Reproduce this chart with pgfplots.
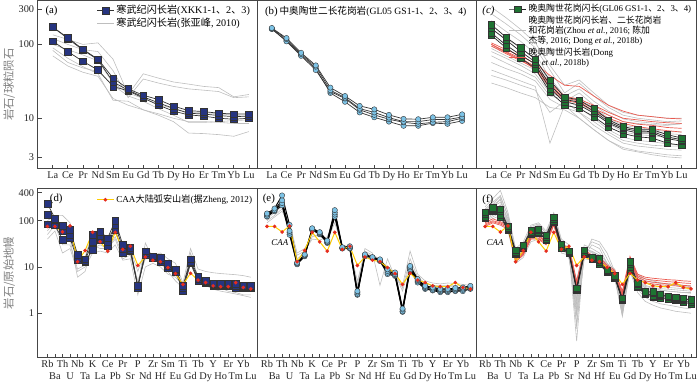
\documentclass[border=0pt]{standalone}
\usepackage{fontspec}
\setmainfont{Liberation Serif}
\newfontfamily\cjk{Noto Sans CJK SC}
\usepackage{pgfplots}
\usepackage{pgfplotstable}
\usepgfplotslibrary{groupplots}
\pgfplotsset{compat=1.18}

\definecolor{navy}{RGB}{38,52,128}
\definecolor{ltblue}{RGB}{125,195,230}
\definecolor{dgreen}{RGB}{30,115,50}
\definecolor{lgray}{RGB}{190,190,190}
\definecolor{lred}{RGB}{235,90,80}
\definecolor{caay}{RGB}{255,205,0}
\definecolor{caar}{RGB}{230,45,30}
\definecolor{framec}{RGB}{70,70,70}

% chondrite-normalised REE
\pgfplotstableread{
x s1 s2 s3 g1 g2 g3 g4 g5 g6
0 172 172 111 135 120 100 83 70 90
1 123 120 80 117 100 85 57 51 65
2 86 84 59 100 85 72 48 42 50
3 63 62 45 105 80 60 43 37 40
4 35 31 27 63 44 30 28 18.5 17.5
5 25 24 23.5 21 19 22 20 15 17
6 20.5 19.5 18.8 40 34 18.5 17 13 13
7 17.9 16.2 15.1 35 30 15.5 13.5 11 11.5
8 14.6 13.6 12.5 31 27 13.5 11 9 10
9 12.7 11.7 11.1 29 25 12 8.8 6.3 9
10 12.3 11.4 10.7 27 24 12 8.8 6.2 9
11 11.7 10.9 10 26 23 11.5 9 6 8.8
12 11.4 10.5 9.7 19.5 19 11 9.3 5.7 8.5
13 11.4 10.7 10 21 19.5 10.5 9.5 6.6 8.5
}\tabA

\pgfplotstableread{
x s1 s2 s3 s4
0 167 165 162 162
1 122 118 110 112
2 77 74 70 72
3 52 50 45 47
4 26 24 23 22
5 20 19 18.5 16.7
6 14.7 13.5 13 12
7 13.2 12 11.1 10.3
8 11.1 10.2 9.7 9
9 9.8 9 8.8 7.9
10 9.7 9 8.4 7.9
11 10.3 9.6 8.8 8.6
12 10.3 9.6 9 8.4
13 11.3 10.4 10 9.2
}\tabB

\pgfplotstableread{
x s1 s2 s3 s4 r1 r2 r3 r4 h1 h2 h3 h4 m1 m2 m3 m4 l1 l2 l3 l4
0 185 165 143 133 105 100 95 100 320 260 210 160 95 88 80 70 57 45 38 30
1 125 115 98 90 85 80 75 78 230 190 150 120 78 70 65 56 47 38 33 26
2 90 80 72 66 70 65 60 62 160 135 110 90 62 56 52 45 40 32 28 22
3 63 58 54 47 55 50 48 46 105 90 75 65 50 45 40 36 32 27 24 19
4 32.5 28 25 22.6 38 30 28 26 52 45 35 30 30 25 22 20 18 4.6 12 14
5 19.4 18 16.7 15.1 28 20 19 17.5 28 22 20 17 18 20 19 18 14 15 17 13
6 17.6 16.5 15.1 13.6 27 18 17 16 33 30 25 22 19 18 16 14 12 10 12 10
7 13.6 12.5 11.7 10.5 20 15 13.5 12.5 22 20 17 15 14 13 12 10 9 7 8 7
8 9.5 9 8.6 7.6 15 12 11 10 15 14 12.5 11 10 9.5 8.5 7 6.5 5 6 5
9 7.7 7.3 7 6.2 12.5 10 9 8.5 12 11 9.8 9 8 7.5 6.5 5.5 5 4 4.6 3.8
10 7 6.7 6.3 5.6 11 9.5 8.3 7.7 11 10 9 8.5 7.5 7 6 5 4.6 3.6 4.2 3.5
11 7 6.6 6.3 5.4 10.5 9 8 7.2 10.5 9.5 8.6 8.2 7 6.6 5.8 4.8 4.3 3.4 4 3.2
12 6 5.6 5.3 4.6 10 8.7 7.5 6.8 10 9 8.2 8 6.6 6.2 5.5 4.5 4.2 3.2 3.8 3
13 5.4 5.1 4.9 4.3 9.8 8.5 7.3 6.5 10 9.2 8.4 8.5 6.5 6 5.3 4.3 4.2 3.1 3.7 2.9
}\tabC

% primitive-mantle-normalised trace elements
\pgfplotstableread{
x caa
0 75
1 75
2 57
3 77
4 13
5 22.6
6 56
7 35
8 22
9 56
10 24
11 28
12 10.8
13 16.5
14 14
15 13
16 9.7
17 7.2
18 4.2
19 7.3
20 5.2
21 4.6
22 3.9
23 3.75
24 3.75
25 4.6
26 3.6
27 3.35
}\tabCAA

\pgfplotstableread{
x s1 s2 s3 g1 g2 g3 g4
0 234 136 84 100 60 40 50
1 112 105 80 130 100 60 80
2 78 60 39 130 60 20 30
3 63 50 42 90 40 25 30
4 18.6 16 13.9 13 6 8 9
5 14.6 13.5 13 16 8 10 11
6 49.5 35.7 23.8 60 30 20 25
7 58 48 39 50 25 22 30
8 42 35 28 45 25 20 25
9 100 81 63 70 40 30 45
10 30 25 20 30 15 14 18
11 26 24 22 25 18 15 20
12 3.9 3.6 3.8 8 4 2.5 5
13 22 20 18.6 25 33 10 15
14 17.1 16 15.8 18 15 12 15
15 15.8 14 13 20 12 10 14
16 11.8 10.5 9.4 15 8 7 9
17 8.9 8.5 8 12 5 6 7
18 3.9 3.5 3.1 4.5 3.5 4 3.5
19 14.6 13 12 25 20 12 14
20 6.1 5.5 5 9 6 5 5.5
21 5 4.8 4.6 8 5 4 4.5
22 4.4 4.1 3.9 7.5 4.5 3.3 4
23 4.4 4.1 3.9 7.2 3.5 3 3.8
24 4.4 4.1 3.9 7 3 2.8 3.6
25 4.4 4 3.6 6.8 2.8 2.6 3.4
26 3.9 3.7 3.6 6.5 2.5 2.4 3.2
27 3.9 3.7 3.6 6 2.5 2.2 3
}\tabD

\pgfplotstableread{
x s1 s2 s3 s4 g1 g2 g3
0 143 135 125 122 100 110 90
1 183 170 165 160 130 150 120
2 351 276 240 215 180 200 160
3 81 60 55 49.5 90 70 80
4 12.4 12 11.8 11.4 20 18 15
5 18.6 18 17.5 17 25 22 20
6 68.5 66 64 63 50 40 45
7 56.5 54 52 51 45 38 50
8 37 35 34 33 40 45 38
9 169 150 135 122 120 110 90
10 26.6 26 25.5 25 30 30 28
11 28 26 25.5 25 25 27 24
12 3.0 2.8 2.6 2.5 4 3.5 5
13 18.6 18 17.5 17 25 22 20
14 16.3 16 15.9 15.8 20 18 17
15 14.6 14 13.8 13.4 4 15 14
16 8.9 8.2 7.5 7 15 9 10
17 7.6 7 6.7 6.4 6 7 7
18 1.26 1.2 1.1 1.07 4 3.5 3
19 10.5 9.8 9 8.5 22 15 12
20 5.5 5.2 4.9 4.6 7 6 5.5
21 3.9 3.7 3.5 3.35 5 4.5 4
22 3.6 3.4 3.2 3.1 4.5 4 3.7
23 3.35 3.2 3 2.85 4.3 4 3.6
24 3.35 3.2 3 2.85 4.5 4 3.8
25 3.5 3.3 3.1 3.0 4.4 4 3.7
26 3.6 3.4 3.2 3.0 4.2 3.8 3.5
27 3.9 3.7 3.5 3.35 4 3.8 3.5
}\tabE

\pgfplotstableread{
x s1 s2 s3 s4 r1 r2 r3 r4 g1 g2 g3 g4 g5 g6 g7 g8 g9 g10 g11 g12
0 150 140 120 112 85 80 75 90 200 180 150 130 110 100 160 90 140 120 170 105
1 190 180 170 165 100 95 90 110 300 250 220 160 140 120 200 110 180 150 230 130
2 175 160 135 122 90 85 80 95 450 350 280 220 180 150 250 130 300 200 330 160
3 75 70 65 62 75 70 65 80 150 120 100 90 80 70 110 60 90 85 130 75
4 23 21 20 19 15 14 13 16 25 20 18 15 14 13 22 12 16 17 21 15
5 30 28 27 26 20 19 18 21 35 28 25 22 20 18 30 16 24 23 29 21
6 62 58 53 51 45 42 40 48 80 70 60 55 45 40 65 35 50 48 75 42
7 66 62 56 54 45 42 40 48 90 80 70 60 50 45 55 40 65 55 85 48
8 48 45 40 39 35 32 30 36 60 55 50 45 40 38 48 35 42 44 52 36
9 120 110 100 95 90 85 80 95 150 140 130 120 100 90 110 80 100 95 125 85
10 31 29 26 25 28 26 25 30 40 35 30 28 25 22 30 20 27 26 33 24
11 22 21 20 19.5 24 23 22 26 30 25 22 20 24 20 15 18 23 22 26 21
12 3.5 3.4 3.2 3.1 4.3 4 3.8 5 5 3 0.25 1.2 2 0.6 1.8 0.9 1.5 0.5 2.5 1
13 23 21 19.5 18.6 22 20 19 24 30 25 22 20 18 17 24 15 21 20 26 18
14 16 15.5 15 14.6 17 16 15 18 25 20 18 16 40 30 22 14 17 35 21 16
15 15 14 12.5 11.4 15 14 13 16 20 17 15 14 35 25 18 12 14 30 18 13
16 8.6 8.2 7.8 7.6 10 9.5 9 11 12 10 9 8.5 20 12 11 8 9.5 15 10 8.5
17 6.5 6.2 6 5.9 8 7.5 7 8.5 9 8 7 6.5 8 6 7.5 5.5 7 7.5 8 6
18 2.1 2 1.95 1.9 2.8 2.5 2.3 3 2.5 1.5 1 0.85 1.5 1.2 2 0.9 1.3 1.6 1.8 1.1
19 13 11.5 10 8.9 15 14 13 17 15 13 12 11 10 9 14 8 12 11 14 10
20 4.5 4.2 3.9 3.6 6.5 6 5.5 7 7 6 5 4.5 4 3.3 5.5 2.8 4.8 4.2 6.5 3.5
21 2.9 2.8 2.7 2.6 5.5 5 4.6 6 5.5 4.5 3.8 3.5 3 2.2 4 1.8 3.6 3.2 5 2.6
22 2.9 2.7 2.4 2.2 5.2 4.7 4.3 5.7 5 4 3.5 3 2.6 1.8 3.6 1.5 3.2 2.9 4.6 2.2
23 2.6 2.5 2.3 2.15 5 4.5 4.1 5.5 4.5 3.8 3.2 2.8 2.4 1.6 3.4 1.3 3.1 2.7 4.4 2
24 2.35 2.3 2.2 2.05 4.8 4.3 4 5.3 4.3 3.6 3 2.6 2.2 1.5 3.3 1.2 3 2.6 4.2 1.9
25 2.2 2.15 2.05 1.9 4.7 4.2 3.9 5.2 4.2 3.5 2.9 2.5 2.1 1.4 3.2 1.1 2.9 2.5 4 1.8
26 2.1 2.05 1.9 1.75 4.5 4 3.7 5 4 3.4 2.8 2.4 2 1.3 3.1 1.05 2.8 2.4 3.9 1.7
27 1.95 1.9 1.75 1.6 4.4 3.9 3.6 4.9 3.8 3.3 2.7 2.3 1.9 1.25 3 1 2.8 2.4 3.8 1.6
}\tabF

\newcommand{\zh}[1]{{\cjk #1}}

\pgfplotsset{
  gline/.style={lgray, line width=0.6pt, no markers, forget plot},
  rline/.style={lred, line width=0.7pt, no markers, forget plot},
  sqnavy/.style={black!80, line width=0.7pt, mark=square*, mark size=3.4pt,
    mark options={fill=navy, draw=black!80, line width=0.4pt, solid}},
  sqgreen/.style={black!85, line width=0.7pt, mark=square*, mark size=3.2pt,
    mark options={fill=dgreen, draw=black!80, line width=0.4pt, solid}},
  cblue/.style={black!80, line width=0.7pt, mark=*, mark size=2.7pt,
    mark options={fill=ltblue, draw=black!80, line width=0.4pt, solid}},
  caastyle/.style={caay, line width=1pt, mark=*, mark size=1.3pt,
    mark options={fill=caar, draw=caar}},
  reeaxis/.style={
    xmin=-1, xmax=13.7, ymin=2.07, ymax=395, height=171pt,
    xtick={0,...,13},
    xticklabels={La,Ce,Pr,Nd,Sm,Eu,Gd,Tb,Dy,Ho,Er,Tm,Yb,Lu},
  },
  pmaxis/.style={
    xmin=-1.3, xmax=27.85, ymin=0.109, ymax=497, height=172pt,
    xtick={0,2,...,26},
    xticklabels={Rb,Th,Nb,K,Ce,Pr,P,Zr,Sm,Ti,Tb,Y,Er,Yb},
    extra x ticks={1,3,...,27},
    extra x tick labels={Ba,U,Ta,La,Pb,Sr,Nd,Hf,Eu,Gd,Dy,Ho,Tm,Lu},
    extra x tick style={xticklabel style={yshift=-12.5pt}},
  },
  noy/.style={ytick=\empty, yticklabels={}},
}

\begin{document}
\begin{tikzpicture}
\begin{groupplot}[
  group style={group size=3 by 2, horizontal sep=0pt, vertical sep=20pt},
  scale only axis, width=223pt,
  ymode=log,
  axis line style={framec, line width=0.8pt},
  tick align=inside, xtick pos=bottom, ytick pos=left,
  major tick length=4pt,
  every tick/.style={framec, line width=0.7pt},
  minor tick num=0,
  tick label style={font=\fontsize{10.5}{11}\selectfont, text=black!85},
  xticklabel style={yshift=1pt},
  ylabel style={font=\fontsize{11.5}{12}\selectfont\cjk, text=black!50, yshift=-3pt},
  legend style={draw=none, fill=none, font=\fontsize{10.3}{12}\selectfont,
    at={(0.99,0.995)}, anchor=north east, row sep=-1.5pt,
    cells={align=left}},
  legend cell align=left,
  clip=true,
]
% ---------------- (a)
\nextgroupplot[reeaxis, xmax=13.55,
  ytick={3,10,100,300}, yticklabels={3,10,100,300},
  ylabel={岩石/球粒陨石}]
\addlegendimage{sqnavy}
\addlegendentry{\zh{寒武纪闪长岩}(XKK1-1\zh{、}2\zh{、}3)}
\addlegendimage{lgray, line width=0.6pt}
\addlegendentry{\zh{寒武纪闪长岩}(\zh{张亚峰}, 2010)}
\foreach \c in {g1,g2,g3,g4,g5,g6}{
  \addplot[gline] table[x=x, y=\c] {\tabA};
}
\foreach \c in {s3,s2,s1}{
  \addplot[sqnavy, forget plot] table[x=x, y=\c] {\tabA};
}
\node[anchor=north west, font=\fontsize{11}{12}\selectfont]
  at (rel axis cs:0.02,0.985) {(a)};

% ---------------- (b)
\nextgroupplot[reeaxis, xmax=14, noy]
\foreach \c in {s4,s3,s2,s1}{
  \addplot[cblue, forget plot] table[x=x, y=\c] {\tabB};
}
\node[anchor=north west, font=\fontsize{11}{12}\selectfont]
  at (rel axis cs:0.02,0.985)
  {(b)\,{\fontsize{9.8}{11}\selectfont\zh{中奥陶世二长花岗岩}(GL05 GS1-1\zh{、}2\zh{、}3\zh{、}4)}};

% ---------------- (c)
\nextgroupplot[reeaxis, xmax=14, noy,
  legend style={at={(1.0,1.0)}, font=\fontsize{9}{10.3}\selectfont}]
\addlegendimage{sqgreen}
\addlegendentry{\zh{晚奥陶世花岗闪长}(GL06 GS1-1\zh{、}2\zh{、}3\zh{、}4)}
\addlegendimage{lgray, line width=0.6pt}
\addlegendentry{\zh{晚奥陶世花岗闪长岩、二长花岗岩}\\\zh{和花岗岩}(Zhou \textit{et al.}, 2016; \zh{陈加}\\\zh{杰等}, 2016; Dong \textit{et al.}, 2018b)}
\addlegendimage{lred, line width=0.7pt}
\addlegendentry{\zh{晚奥陶世闪长岩}(Dong\\\hspace*{1.5em}\textit{et al.}, 2018b)}
\foreach \c in {h1,h2,h3,h4,m1,m2,m3,m4,l1,l2,l3,l4}{
  \addplot[gline] table[x=x, y=\c] {\tabC};
}
\foreach \c in {r1,r2,r3,r4}{
  \addplot[rline] table[x=x, y=\c] {\tabC};
}
\foreach \c in {s4,s3,s2,s1}{
  \addplot[sqgreen, forget plot] table[x=x, y=\c] {\tabC};
}
\node[anchor=north west, font=\fontsize{11}{12}\selectfont\itshape]
  at (rel axis cs:0.01,0.985) {(c)};

% ---------------- (d)
\nextgroupplot[pmaxis,
  ytick={1,10,100,400}, yticklabels={1,10,100,400},
  ylabel={岩石/原始地幔},
  legend style={at={(1.0,0.985)}, font=\fontsize{9.3}{11}\selectfont}]
\addlegendimage{caastyle}
\addlegendentry{CAA\zh{大陆弧安山岩}(\zh{据}Zheng, 2012)}
\foreach \c in {g1,g2,g3,g4}{
  \addplot[gline] table[x=x, y=\c] {\tabD};
}
\foreach \c in {s3,s2,s1}{
  \addplot[sqnavy, forget plot] table[x=x, y=\c] {\tabD};
}
\addplot[caastyle, forget plot] table[x=x, y=caa] {\tabCAA};
\node[anchor=north west, font=\fontsize{11}{12}\selectfont]
  at (rel axis cs:0.04,0.985) {(d)};

% ---------------- (e)
\nextgroupplot[pmaxis, noy]
\foreach \c in {g1,g2,g3}{
  \addplot[gline] table[x=x, y=\c] {\tabE};
}
\foreach \c in {s4,s3,s2,s1}{
  \addplot[cblue, black, line width=1pt, forget plot] table[x=x, y=\c] {\tabE};
}
\addplot[caastyle, forget plot] table[x=x, y=caa] {\tabCAA};
\node[anchor=north west, font=\fontsize{11}{12}\selectfont]
  at (rel axis cs:0.01,0.985) {(e)};
\node[font=\fontsize{9}{10}\selectfont\itshape, inner sep=1pt] at (axis cs:1.7,34) {CAA};

% ---------------- (f)
\nextgroupplot[pmaxis, noy, xmin=-1.1, xmax=27.7]
\foreach \c in {g1,g2,g3,g4,g5,g6,g7,g8,g9,g10,g11,g12}{
  \addplot[gline] table[x=x, y=\c] {\tabF};
}
\foreach \c in {r1,r2,r3,r4}{
  \addplot[rline] table[x=x, y=\c] {\tabF};
}
\foreach \c in {s4,s3,s2,s1}{
  \addplot[sqgreen, forget plot] table[x=x, y=\c] {\tabF};
}
\addplot[caastyle, forget plot] table[x=x, y=caa] {\tabCAA};
\node[anchor=north west, font=\fontsize{11}{12}\selectfont]
  at (rel axis cs:0.01,0.985) {(f)};
\node[font=\fontsize{9}{10}\selectfont\itshape, inner sep=1pt] at (axis cs:1.3,34) {CAA};
\end{groupplot}
\end{tikzpicture}
\end{document}
